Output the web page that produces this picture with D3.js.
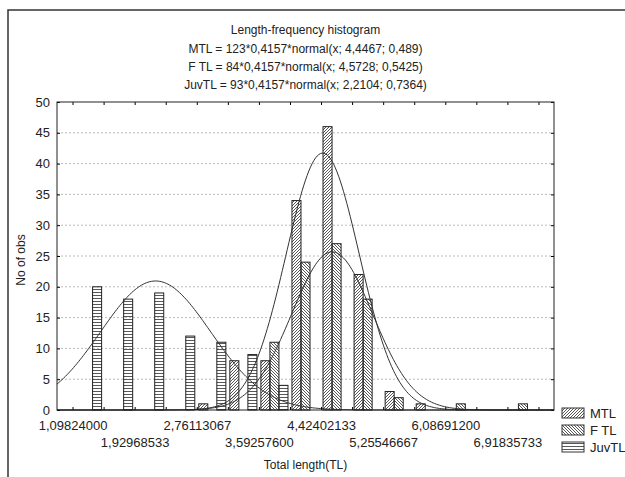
<html>
<head>
<script src="https://d3js.org/d3.v7.min.js"></script>
<style>
body { margin: 0; background: #fff; }
svg { font-family: 'Liberation Sans', Arial, sans-serif; }
text { fill: #222; }
.grid line { stroke: #bbb; stroke-dasharray: 2,2; }
</style>
</head>
<body>
<div id="plot"></div>
<script>

// bin layout (width = 2 bins between labels)
var binStart = 1.09824;
var binWidth = 0.41572267;

var tickLabels = ["1,09824000", "1,92968533", "2,76113067", "3,59257600",
  "4,42402133", "5,25546667", "6,08691200", "6,91835733"];

var seriesNames = ["MTL", "F TL", "JuvTL"];
var mtlCounts = [0, 0, 0, 0, 1, 8, 8, 34, 46, 22, 3, 1, 0, 0, 0];
var ftlCounts = [0, 0, 0, 0, 0, 0, 11, 24, 27, 18, 2, 0, 1, 0, 1];
var juvCounts = [20, 18, 19, 12, 11, 9, 4, 0, 0, 0, 0, 0, 0, 0, 0];

// fitted normal curves, as in the title
var fitN = [123, 84, 93];
var fitMean = [4.4467, 4.5728, 2.2104];
var fitSd = [0.489, 0.5425, 0.7364];

var titleLines = [
  "Length-frequency histogram",
  "MTL = 123*0,4157*normal(x; 4,4467; 0,489)",
  "F TL = 84*0,4157*normal(x; 4,5728; 0,5425)",
  "JuvTL = 93*0,4157*normal(x; 2,2104; 0,7364)"
];

var yTicks = d3.range(0, 51, 5);

var width = 625, height = 477;
var plotLeft = 57, plotRight = 554, plotTop = 102, plotBottom = 410;

var svg = d3.select("#plot").append("svg")
  .attr("width", width).attr("height", height);

// outer frame (only top and left show in the picture)
svg.append("path")
  .attr("d", "M8," + height + " L8,10 L" + width + ",10")
  .style("fill", "none").style("stroke", "#333").style("stroke-width", 1.5);

var defs = svg.append("defs");
function hatch(id, d, w, h) {
  defs.append("pattern").attr("id", id)
    .attr("patternUnits", "userSpaceOnUse")
    .attr("width", w).attr("height", h)
    .append("path").attr("d", d)
    .style("stroke", "#444").style("stroke-width", 0.9);
}
hatch("pMTL", "M0,3 L3,0 M-1,1 L1,-1 M2,4 L4,2", 3, 3);
hatch("pFTL", "M0,0 L3,3 M-1,2 L1,4 M2,-1 L4,1", 3, 3);
hatch("pJuv", "M0,1.5 L4,1.5", 4, 3);
var fills = ["url(#pMTL)", "url(#pFTL)", "url(#pJuv)"];

var xScale = d3.scaleLinear()
  .domain([binStart - binWidth / 2, binStart + 15.5 * binWidth])
  .range([plotLeft, plotRight]);
var yScale = d3.scaleLinear().domain([0, 50]).range([plotBottom, plotTop]);

var binPx = xScale(binStart + binWidth) - xScale(binStart);
var inner = d3.scaleBand().domain(seriesNames).range([0, binPx])
  .paddingInner(0).paddingOuter(0.22);

// title
svg.selectAll("text.title").data(titleLines).enter()
  .append("text")
  .attr("class", "title")
  .attr("x", (plotLeft + plotRight) / 2)
  .attr("y", function (d, i) { return i == 0 ? 34 : 53 + (i - 1) * 18; })
  .attr("text-anchor", "middle")
  .style("font-size", "12px")
  .text(d => d);

// gridlines
svg.append("g").attr("class", "grid")
  .selectAll("line").data(yTicks.slice(1, -1)).enter()
  .append("line")
  .attr("x1", plotLeft).attr("x2", plotRight)
  .attr("y1", d => yScale(d)).attr("y2", d => yScale(d));

// bars
var counts = [mtlCounts, ftlCounts, juvCounts];
var bars = [];
counts.forEach(function (arr, s) {
  arr.forEach(function (v, k) {
    if (v > 0) bars.push({ s: s, k: k, v: v });
  });
});

svg.selectAll("rect.bar").data(bars).enter()
  .append("rect")
  .attr("class", "bar")
  .attr("x", d => xScale(binStart + d.k * binWidth) + inner(seriesNames[d.s]))
  .attr("y", d => yScale(d.v))
  .attr("width", inner.bandwidth())
  .attr("height", d => yScale(0) - yScale(d.v))
  .style("fill", d => fills[d.s])
  .style("stroke", "#222").style("stroke-width", 1);

// fitted curves
var dom = xScale.domain();
var xs = d3.range(0, 301).map(i => dom[0] + i * (dom[1] - dom[0]) / 300);
function normal(x, m, sd) {
  return Math.exp(-0.5 * Math.pow((x - m) / sd, 2)) / (sd * Math.sqrt(2 * Math.PI));
}
var line = d3.line().x(d => xScale(d[0])).y(d => yScale(d[1]));
fitN.forEach(function (n, s) {
  svg.append("path")
    .datum(xs.map(x => [x, n * 0.4157 * normal(x, fitMean[s], fitSd[s])]))
    .attr("d", line)
    .style("fill", "none").style("stroke", "#333").style("stroke-width", 1);
});

// axes: bin boundaries get inward ticks, every second one a label
var bounds = d3.range(0, 16).map(k => binStart + k * binWidth);

var xAxis = svg.append("g").attr("transform", "translate(0," + plotBottom + ")")
  .call(d3.axisBottom(xScale).tickValues(bounds).tickSizeInner(-3).tickSizeOuter(0)
    .tickPadding(11)
    .tickFormat((d, i) => i % 2 == 0 ? tickLabels[i / 2] : ""));
xAxis.select(".domain").remove();
xAxis.selectAll("text").style("font-size", "13px").style("fill", "#222");
xAxis.selectAll(".tick").filter((d, i) => i % 4 == 2).select("text")
  .attr("y", 28);

var xTop = svg.append("g").attr("transform", "translate(0," + plotTop + ")")
  .call(d3.axisTop(xScale).tickValues(bounds).tickSizeInner(-3).tickSizeOuter(0).tickFormat(""));
xTop.select(".domain").remove();

var yAxis = svg.append("g").attr("transform", "translate(" + plotLeft + ",0)")
  .call(d3.axisLeft(yScale).tickValues(yTicks).tickSizeInner(-3).tickSizeOuter(0).tickPadding(7));
yAxis.selectAll("text").style("font-size", "13px").style("fill", "#222");
yAxis.select(".domain").remove();
var yRight = svg.append("g").attr("transform", "translate(" + plotRight + ",0)")
  .call(d3.axisRight(yScale).tickValues(yTicks).tickSizeInner(-3).tickSizeOuter(0).tickFormat(""));
yRight.select(".domain").remove();

svg.append("rect")
  .attr("x", plotLeft).attr("y", plotTop)
  .attr("width", plotRight - plotLeft).attr("height", plotBottom - plotTop)
  .style("fill", "none").style("stroke", "#222").style("stroke-width", 1);

// axis titles
svg.append("text")
  .attr("x", (plotLeft + plotRight) / 2).attr("y", 469)
  .attr("text-anchor", "middle")
  .style("font-size", "12px")
  .text("Total length(TL)");
svg.append("text")
  .attr("transform", "translate(25,260) rotate(-90)")
  .attr("text-anchor", "middle")
  .style("font-size", "12px")
  .text("No of obs");

// legend
var legend = svg.selectAll("g.legend").data(seriesNames).enter()
  .append("g").attr("class", "legend")
  .attr("transform", (d, i) => "translate(562," + (408 + i * 17) + ")");
legend.append("rect")
  .attr("width", 22).attr("height", 10)
  .style("fill", (d, i) => fills[i])
  .style("stroke", "#333");
legend.append("text")
  .attr("x", 28).attr("y", 5).attr("dy", "0.35em")
  .style("font-size", "13px")
  .text(d => d);

</script>
</body>
</html>
